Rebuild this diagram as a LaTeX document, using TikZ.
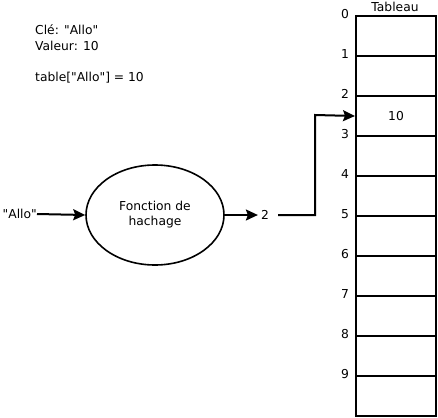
\documentclass[tikz,border=0pt]{standalone}
\usepackage{fontspec}
\setmainfont[Ligatures=NoCommon]{DejaVu Sans}
\usetikzlibrary{arrows.meta,shapes.geometric}
\newcommand{\dq}{\textquotedbl}
\begin{document}
\begin{tikzpicture}[x=1pt,y=-1pt,
  txt/.style={inner sep=0pt,font=\fontsize{12.3}{14}\selectfont},
  cell/.style={draw,line width=2pt,minimum width=80pt,minimum height=40pt,inner sep=0pt,anchor=north west},
  arr/.style={line width=2pt,-{Stealth[length=12pt,width=11pt,inset=2pt]}},
  ln/.style={line width=2pt}]
\useasboundingbox (0,0) rectangle (438,417);
\node[txt,anchor=west] (cle) at (35,30) {Clé: \dq Allo\dq};
\node[txt,anchor=west] (val) at (35,46) {Valeur: 10};
\node[txt,anchor=west] (tab) at (35,78) {table[\dq Allo\dq] = 10};
\foreach \i in {0,...,9}{
  \node[cell] (c\i) at (355,15+40*\i) {};
  \node[txt] (l\i) at (345,14+40*\i) {\i};
}
\node[txt] (v) at (c2.center) {10};
\node[txt] (tt) at (395,7) {Tableau};
\node[draw,ellipse,line width=1.6pt,minimum width=138pt,minimum height=100pt,align=center,font=\fontsize{12.3}{15}\selectfont] (h) at (155,215) {Fonction de\\hachage};
\node[txt,anchor=east] (allo) at (37,214) {\dq Allo\dq};
\node[txt] (two) at (265,215) {2};
\draw[arr] (allo.east) -- (h.west);
\draw[arr] (h.east) -- ([xshift=-3pt]two.west);
\coordinate (tw) at ([xshift=9pt]two.east);
\draw[arr] (tw) -- (315,215) -- (315,115) -- (c2.west);
\end{tikzpicture}
\end{document}
